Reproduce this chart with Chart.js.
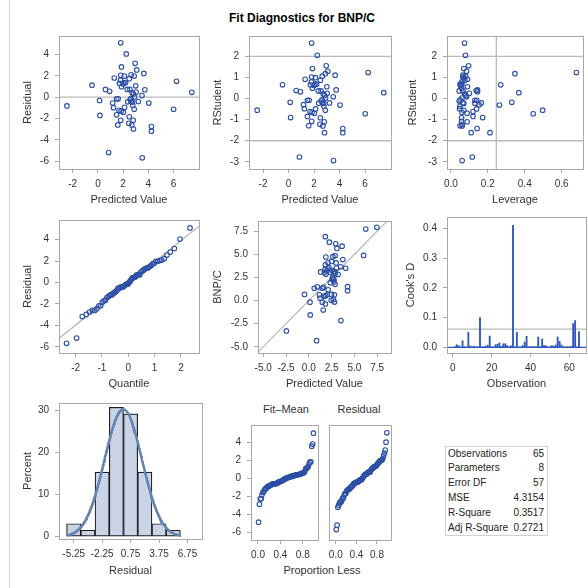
<!DOCTYPE html>
<html><head><meta charset="utf-8">
<script src="https://cdn.jsdelivr.net/npm/chart.js@4.4.1/dist/chart.umd.min.js"></script>
<style>
html,body{margin:0;padding:0;background:#fff;}
#wrap{position:relative;width:588px;height:588px;overflow:hidden;font-family:'Liberation Sans',Arial,Helvetica,sans-serif;}
#wrap canvas{position:absolute;}
.t{position:absolute;white-space:nowrap;color:#333;text-align:center;}
#tbl{position:absolute;left:445px;top:446px;width:103px;height:90px;box-sizing:border-box;border:1px solid #d0d0d0;font-size:10px;color:#222;}
#tbl .r{position:absolute;left:2px;right:3px;height:14.8px;line-height:14.8px;}
#tbl .r span{position:absolute;right:0;}
</style></head><body><div id="wrap">
<div style="position:absolute;left:9px;top:0;width:1px;height:588px;background:#d6d6d6"></div>
<div class="t" style="left:152px;top:11px;width:300px;line-height:15px;font-size:12px;font-weight:bold;color:#000">Fit Diagnostics for BNP/C</div>
<div class="t" style="left:236px;top:402px;width:100px;line-height:14px;font-size:11px">Fit–Mean</div>
<div class="t" style="left:309px;top:402px;width:100px;line-height:14px;font-size:11px">Residual</div>
<div class="t" style="left:262px;top:563px;width:120px;line-height:14px;font-size:11px">Proportion Less</div>
<div id="tbl"></div>
</div>
<script>
// ---------------- data ----------------
const predicted = [1.81,2.25,2.95,1.87,3.08,3.65,1.81,2.10,2.88,2.64,
  1.30,1.79,2.49,6.24,2.07,1.71,2.20,2.00,-0.47,3.00,
  1.87,0.60,0.93,2.33,2.54,3.73,7.46,3.03,2.82,3.50,
  2.72,2.90,2.62,0.13,1.48,1.61,2.56,2.36,3.21,2.75,
  1.17,4.04,2.64,2.77,1.24,2.12,2.88,6.01,1.68,1.84,
  2.02,1.48,0.16,2.49,1.81,2.80,2.46,1.58,2.69,2.82,
  4.25,4.25,0.85,3.52,-2.46];
const residual = [5.10,4.06,3.18,2.84,2.56,2.23,2.05,1.98,1.98,2.10,
  1.80,1.59,1.74,1.49,1.37,1.31,1.37,1.25,1.13,1.07,
  0.98,0.73,0.55,0.73,0.73,0.70,0.46,0.49,0.30,0.15,
  0.43,0.03,-0.12,-0.31,-0.15,-0.15,-0.24,-0.43,-0.40,-0.46,
  -0.55,-0.55,-0.40,-0.76,-0.98,-0.95,-1.13,-1.13,-1.22,-1.31,
  -1.40,-1.65,-1.71,-1.83,-2.17,-2.17,-2.44,-2.60,-2.60,-2.98,
  -2.75,-3.18,-5.19,-5.68,-0.82];
const rstudent = [2.63,2.05,1.55,1.42,1.29,1.11,1.02,0.99,1.18,1.06,
  0.91,0.79,0.87,1.23,0.68,0.65,0.68,0.62,0.65,0.56,
  0.49,0.38,0.32,0.36,0.36,0.41,0.28,0.25,0.15,0.08,
  0.22,0.02,-0.06,-0.18,-0.08,-0.08,-0.12,-0.22,-0.21,-0.23,
  -0.29,-0.31,-0.20,-0.37,-0.48,-0.49,-0.56,-0.72,-0.62,-0.65,
  -0.70,-0.85,-0.90,-0.91,-1.08,-1.10,-1.22,-1.29,-1.30,-1.62,
  -1.42,-1.62,-2.77,-2.94,-0.55];
const leverage = [0.074,0.079,0.096,0.070,0.085,0.065,0.065,0.070,0.347,0.080,
  0.090,0.060,0.075,0.680,0.050,0.055,0.060,0.052,0.270,0.090,
  0.058,0.137,0.144,0.045,0.065,0.144,0.368,0.100,0.080,0.085,
  0.075,0.060,0.050,0.330,0.140,0.130,0.045,0.130,0.165,0.070,
  0.153,0.263,0.065,0.049,0.047,0.139,0.070,0.446,0.120,0.060,
  0.088,0.120,0.172,0.058,0.058,0.088,0.061,0.050,0.061,0.212,
  0.142,0.110,0.116,0.061,0.497];
const cooksD = [0.002,0.009,0.006,0.001,0.022,0.002,0.001,0.050,0.005,0.002,
  0.004,0.001,0.002,0.100,0.001,0.002,0.004,0.007,0.038,0.002,
  0.001,0.009,0.010,0.015,0.003,0.012,0.012,0.006,0.002,0.005,
  0.410,0.002,0.050,0.001,0.002,0.006,0.018,0.037,0.002,0.001,
  0.003,0.001,0.002,0.035,0.002,0.028,0.006,0.005,0.002,0.001,
  0.006,0.004,0.008,0.035,0.020,0.008,0.002,0.001,0.002,0.001,
  0.003,0.080,0.090,0.002,0.053];
const histMidpoints = [-5.25,-3.75,-2.25,-0.75,0.75,2.25,3.75,5.25];
const histPercent = [3.08,1.54,15.38,30.77,29.23,15.38,3.08,1.54];
const binWidth = 1.5;
const statLabels = ['Observations','Parameters','Error DF','MSE','R-Square','Adj R-Square'];
const statValues = ['65','8','57','4.3154','0.3517','0.2721'];
const nObs = 65, nParams = 8;
// tick labels
const ticksPred = [-2,0,2,4,6];
const ticksResid = [-6,-4,-2,0,2,4];
const ticksRStud = [-3,-2,-1,0,1,2];
const ticksLev = [0,0.2,0.4,0.6];
const ticksQuant = [-2,-1,0,1,2];
const ticksObsY = [-5,-2.5,0,2.5,5,7.5];
const ticksCookY = [0,0.1,0.2,0.3,0.4];
const ticksObsNo = [0,20,40,60];
const ticksHistX = [-5.25,-2.25,0.75,3.75,6.75];
const ticksPct = [0,10,20,30];
const ticksProp = [0,0.4,0.8];

// ---------------- helpers ----------------
const wrap = document.getElementById('wrap');
Chart.defaults.font.family = "'Liberation Sans', Arial, Helvetica, sans-serif";
Chart.defaults.font.size = 10;
Chart.defaults.color = '#333';
const FRAME = '#a8a8a8', REF = '#bababa', MARK = '#2d4fa6', NEEDLE = '#2f58bb';

const f0 = v => String(v), f1 = v => v.toFixed(1), f2 = v => v.toFixed(2);

function axis(pos, min, max, ticks, fmt, title, size) {
  const horiz = pos === 'bottom';
  return {
    type: 'linear', position: pos, min, max, offset: false, bounds: 'data',
    afterBuildTicks: s => { s.ticks = ticks.map(v => ({value: v})); },
    afterFit: s => { if (horiz) s.height = size; else s.width = size;
      s.paddingLeft = 0; s.paddingRight = 0; s.paddingTop = 0; s.paddingBottom = 0; },
    grid: {display: true, drawOnChartArea: false, drawTicks: true, tickLength: 4, color: FRAME, offset: false},
    border: {display: false},
    ticks: {padding: horiz ? 5 : 6, autoSkip: false, maxRotation: 0, minRotation: 0, color: '#333',
      font: {size: 10}, callback: v => fmt(v)},
    title: title ? {display: true, text: title, padding: 0, font: {size: 11}, color: '#333'} : {display: false}
  };
}

const refPlugin = {
  id: 'refs',
  beforeDatasetsDraw(chart, args, o) {
    const {ctx, chartArea: a, scales: {x, y}} = chart;
    ctx.save();
    ctx.beginPath(); ctx.rect(a.left, a.top, a.right - a.left, a.bottom - a.top); ctx.clip();
    (o.lines || []).forEach(l => {
      ctx.strokeStyle = l.color || REF; ctx.lineWidth = l.width || 1.3;
      ctx.beginPath();
      if (l.h !== undefined) { const py = y.getPixelForValue(l.h); ctx.moveTo(a.left, py); ctx.lineTo(a.right, py); }
      else if (l.v !== undefined) { const px = x.getPixelForValue(l.v); ctx.moveTo(px, a.top); ctx.lineTo(px, a.bottom); }
      else { const x0 = x.min, x1 = x.max;
        ctx.moveTo(x.getPixelForValue(x0), y.getPixelForValue(l.icpt + l.slope * x0));
        ctx.lineTo(x.getPixelForValue(x1), y.getPixelForValue(l.icpt + l.slope * x1)); }
      ctx.stroke();
    });
    ctx.restore();
  },
  afterDraw(chart) {
    const {ctx, chartArea: a} = chart;
    ctx.save(); ctx.strokeStyle = FRAME; ctx.lineWidth = 1;
    ctx.strokeRect(Math.round(a.left) + 0.5, Math.round(a.top) + 0.5,
      Math.round(a.right) - Math.round(a.left), Math.round(a.bottom) - Math.round(a.top));
    ctx.restore();
  }
};

function panel(box, type, datasets, scales, lines) {
  const [cl, ct, cr, cb] = box;
  const c = document.createElement('canvas');
  c.width = cr - cl; c.height = cb - ct;
  c.style.left = cl + 'px'; c.style.top = ct + 'px';
  c.style.width = (cr - cl) + 'px'; c.style.height = (cb - ct) + 'px';
  wrap.appendChild(c);
  return new Chart(c, {
    type, data: {datasets},
    options: {responsive: false, animation: false, devicePixelRatio: 1, events: [],
      layout: {padding: {top: 2, right: 2, left: 0, bottom: 0}},
      plugins: {legend: {display: false}, tooltip: {enabled: false}, title: {display: false}, refs: {lines: lines || []}},
      scales},
    plugins: [refPlugin]
  });
}

function pts(xs, ys) { return xs.map((v, i) => ({x: v, y: ys[i]})); }
function scatterDs(data) {
  return {type: 'scatter', data, showLine: false, pointStyle: 'circle', pointRadius: 2.3, pointBorderWidth: 1.1,
    pointBorderColor: MARK, pointBackgroundColor: 'rgba(0,0,0,0)', borderColor: MARK, backgroundColor: 'rgba(0,0,0,0)'};
}
function qnorm(p) {
  const a=[-3.969683028665376e+01,2.209460984245205e+02,-2.759285104469687e+02,1.383577518672690e+02,-3.066479806614716e+01,2.506628277459239e+00];
  const b=[-5.447609879822406e+01,1.615858368580409e+02,-1.556989798598866e+02,6.680131188771972e+01,-1.328068155288572e+01];
  const c=[-7.784894002430293e-03,-3.223964580411365e-01,-2.400758277161838e+00,-2.549732539343734e+00,4.374664141464968e+00,2.938163982698783e+00];
  const d=[7.784695709041462e-03,3.224671290700398e-01,2.445134137142996e+00,3.754408661907416e+00];
  const pl=0.02425; let q,r;
  if (p < pl) { q=Math.sqrt(-2*Math.log(p)); return (((((c[0]*q+c[1])*q+c[2])*q+c[3])*q+c[4])*q+c[5])/((((d[0]*q+d[1])*q+d[2])*q+d[3])*q+1); }
  if (p <= 1-pl) { q=p-0.5; r=q*q; return (((((a[0]*r+a[1])*r+a[2])*r+a[3])*r+a[4])*r+a[5])*q/(((((b[0]*r+b[1])*r+b[2])*r+b[3])*r+b[4])*r+1); }
  q=Math.sqrt(-2*Math.log(1-p)); return -(((((c[0]*q+c[1])*q+c[2])*q+c[3])*q+c[4])*q+c[5])/((((d[0]*q+d[1])*q+d[2])*q+d[3])*q+1);
}

// derived quantities
const n = residual.length;
const observed = predicted.map((p, i) => p + residual[i]);
const meanRes = residual.reduce((s, v) => s + v, 0) / n;
const sdRes = Math.sqrt(residual.reduce((s, v) => s + (v - meanRes) ** 2, 0) / (n - 1));
const sortedRes = residual.slice().sort((a, b) => a - b);
const blom = i => (i + 1 - 0.375) / (n + 0.25);
const quantiles = sortedRes.map((v, i) => qnorm(blom(i)));
const meanPred = predicted.reduce((s, v) => s + v, 0) / n;
const fitMean = predicted.map(p => p - meanPred).sort((a, b) => a - b);
const propLess = fitMean.map((v, i) => blom(i));
const obsNo = cooksD.map((v, i) => i + 1);

// ---------------- panels ----------------
// 1 Residual vs Predicted
panel([21, 31, 204, 207], 'scatter', [scatterDs(pts(predicted, residual))], {
  x: axis('bottom', -3.09, 8.02, ticksPred, f0, 'Predicted Value', 38),
  y: axis('left', -6.73, 5.73, ticksResid, f0, 'Residual', 38)
}, [{h: 0}]);
// 2 RStudent vs Predicted
panel([211, 31, 396, 207], 'scatter', [scatterDs(pts(predicted, rstudent))], {
  x: axis('bottom', -3.1, 8.02, ticksPred, f0, 'Predicted Value', 38),
  y: axis('left', -3.34, 2.96, ticksRStud, f0, 'RStudent', 38)
}, [{h: 2}, {h: -2}]);
// 3 RStudent vs Leverage
panel([406, 31, 588, 207], 'scatter', [scatterDs(pts(leverage, rstudent))], {
  x: axis('bottom', -0.021, 0.715, ticksLev, f1, 'Leverage', 38),
  y: axis('left', -3.34, 2.96, ticksRStud, f0, 'RStudent', 41)
}, [{h: 2}, {h: -2}, {v: 2 * nParams / nObs}]);
// 4 Q-Q plot
panel([21, 215, 204, 391], 'scatter', [scatterDs(pts(quantiles, sortedRes))], {
  x: axis('bottom', -2.63, 2.68, ticksQuant, f0, 'Quantile', 38),
  y: axis('left', -6.58, 5.83, ticksResid, f0, 'Residual', 38)
}, [{slope: sdRes, icpt: meanRes}]);
// 5 Observed vs Predicted
panel([211, 216, 396, 391], 'scatter', [scatterDs(pts(predicted, observed))], {
  x: axis('bottom', -5.57, 9.0, ticksObsY, f1, 'Predicted Value', 38),
  y: axis('left', -5.67, 8.59, ticksObsY, f1, 'BNP/C', 47)
}, [{slope: 1, icpt: 0}]);
// 6 Cook's D needles
panel([404, 215, 588, 391], 'bar', [{type: 'bar', data: pts(obsNo, cooksD), backgroundColor: NEEDLE,
  borderWidth: 0, barThickness: 1.2}], {
  x: axis('bottom', -3, 68.6, ticksObsNo, f0, 'Observation', 38),
  y: axis('left', -0.019, 0.438, ticksCookY, f1, "Cook's D", 43)
}, [{h: 4 / nObs}, {h: 0, color: NEEDLE, width: 1.2}]);
// 7 Histogram with normal curve
const lo = histMidpoints[0] - binWidth / 2, hi = histMidpoints[histMidpoints.length - 1] + binWidth / 2;
const curve = [];
for (let k = 0; k <= 240; k++) { const xv = lo + (hi - lo) * k / 240;
  curve.push({x: xv, y: 100 * binWidth * Math.exp(-0.5 * ((xv - meanRes) / sdRes) ** 2) / (sdRes * Math.sqrt(2 * Math.PI))}); }
panel([21, 401, 204, 578], 'bar', [
  {type: 'line', data: curve, borderColor: '#6483b0', borderWidth: 2.4, pointRadius: 0, tension: 0, fill: false, order: 0},
  {type: 'bar', data: pts(histMidpoints, histPercent), backgroundColor: '#c9d4e6', borderColor: '#1e1e1e',
    borderWidth: 1.2, borderSkipped: false, barPercentage: 1, categoryPercentage: 1, order: 1}
], {
  x: axis('bottom', -6.8, 8.28, ticksHistX, f2, 'Residual', 39),
  y: axis('left', -0.55, 31.8, ticksPct, f0, 'Percent', 38)
});
// 8 Residual-Fit spread
panel([216, 420, 323, 560], 'scatter', [scatterDs(pts(propLess, fitMean))], {
  x: axis('bottom', -0.125, 1.07, ticksProp, f1, null, 20),
  y: axis('left', -6.84, 5.96, ticksResid, f0, null, 35)
});
const yHidden = axis('left', -6.84, 5.96, ticksResid, f0, null, 0); yHidden.display = false;
panel([324, 420, 396, 560], 'scatter', [scatterDs(pts(sortedRes.map((v, i) => blom(i)), sortedRes))], {
  x: axis('bottom', -0.13, 1.07, ticksProp, f1, null, 20),
  y: yHidden
});
// 9 Fit statistics table
const tbl = document.getElementById('tbl');
statLabels.forEach((lab, i) => {
  const r = document.createElement('div'); r.className = 'r';
  r.style.top = (-0.4 + i * 14.8) + 'px';
  r.textContent = lab;
  const s = document.createElement('span'); s.textContent = statValues[i]; r.appendChild(s);
  tbl.appendChild(r);
});
</script></body></html>
